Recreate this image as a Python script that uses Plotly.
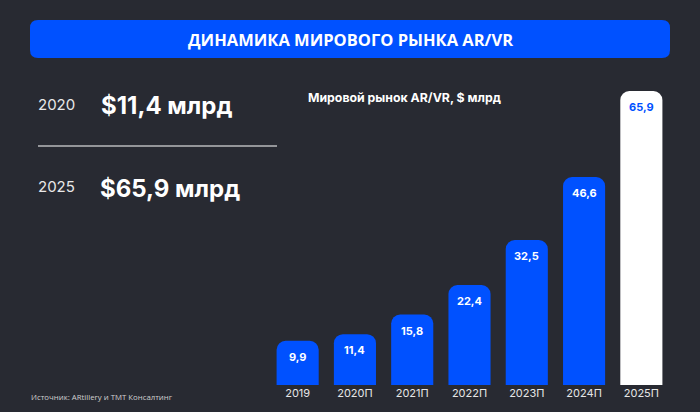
import plotly.graph_objects as go

categories = ["2019", "2020П", "2021П", "2022П", "2023П", "2024П", "2025П"]
values = [9.9, 11.4, 15.8, 22.4, 32.5, 46.6, 65.9]
bar_colors = ["#0051FF"] * 6 + ["#FFFFFF"]
label_colors = ["#FFFFFF"] * 6 + ["#0051FF"]

BG = "#282A32"
BLUE = "#0051FF"
W, H = 700, 412
L, R, T, B = 269, 670, 91, 385

def px(x):
    return (x - L) / (R - L)

def py(y):
    return (B - y) / (B - T)

fig = go.Figure()
fig.add_trace(go.Bar(
    x=categories, y=values, marker=dict(color=bar_colors, line=dict(width=0)),
    hoverinfo="skip", showlegend=False,
))

annotations = []
for i, (v, col) in enumerate(zip(values, label_colors)):
    annotations.append(dict(
        x=i, y=v, xref="x", yref="y", text=f"<b>{str(v).replace('.', ',')}</b>",
        showarrow=False, yanchor="top", yshift=-7,
        font=dict(family="Inter", size=11, color=col),
    ))

# header rounded rectangle
x0, x1, y0, y1, r = 30, 670, 20, 58, 8
path = (f"M {px(x0+r)} {py(y0)} L {px(x1-r)} {py(y0)} Q {px(x1)} {py(y0)} {px(x1)} {py(y0+r)} "
        f"L {px(x1)} {py(y1-r)} Q {px(x1)} {py(y1)} {px(x1-r)} {py(y1)} "
        f"L {px(x0+r)} {py(y1)} Q {px(x0)} {py(y1)} {px(x0)} {py(y1-r)} "
        f"L {px(x0)} {py(y0+r)} Q {px(x0)} {py(y0)} {px(x0+r)} {py(y0)} Z")
shapes = [
    dict(type="path", xref="paper", yref="paper", path=path, fillcolor=BLUE, line=dict(width=0), layer="below"),
    dict(type="line", xref="paper", yref="paper", x0=px(38), x1=px(277), y0=py(146), y1=py(146),
         line=dict(color="#FFFFFF", width=1.2)),
]

def txt(x, y, text, size, color="#FFFFFF", xanchor="left", family="Inter"):
    annotations.append(dict(
        x=px(x), y=py(y), xref="paper", yref="paper", text=text, showarrow=False,
        xanchor=xanchor, yanchor="middle", font=dict(family=family, size=size, color=color),
    ))

txt(350, 39, "<b>ДИНАМИКА МИРОВОГО РЫНКА AR/VR</b>", 16.5, xanchor="center", family="Open Sans")
txt(36, 104, "2020", 15, "#E8E8E8")
txt(99, 106, "<b>$11,4 млрд</b>", 24)
txt(36, 186, "2025", 15, "#E8E8E8")
txt(98, 188, "<b>$65,9 млрд</b>", 24)
txt(306, 97, "<b>Мировой рынок AR/VR, $ млрд</b>", 12.3)
txt(29, 397, "Источник: ARtillery и TMT Консалтинг", 7.8, "#D0D0D0", family="Open Sans")

fig.update_layout(
    width=W, height=H,
    margin=dict(l=L, r=W - R, t=T, b=H - B, pad=0),
    paper_bgcolor=BG, plot_bgcolor=BG,
    bargap=0.265, barcornerradius=9,
    xaxis=dict(type="category", range=[-0.5, 6.5], showgrid=False, zeroline=False, showline=False, ticks="",
               tickfont=dict(family="Inter", size=11, color="#E6E6E6"), fixedrange=True),
    yaxis=dict(range=[0, 65.9], visible=False, fixedrange=True),
    annotations=annotations, shapes=shapes,
)

fig.write_html("out.html", config={"displayModeBar": False})
